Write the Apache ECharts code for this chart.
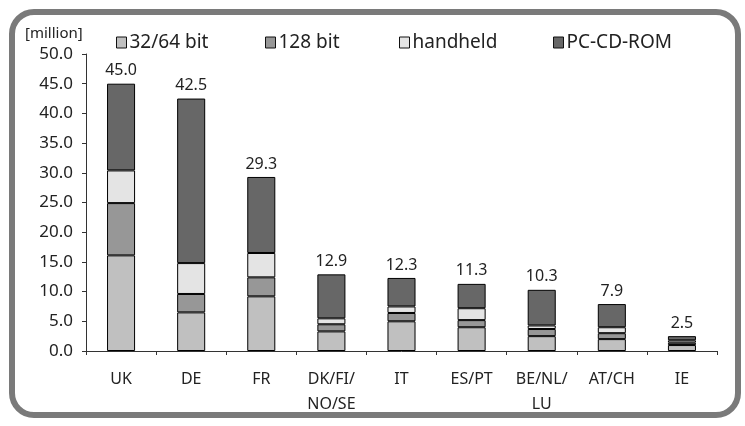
<!DOCTYPE html>
<html>
<head>
<meta charset="utf-8">
<script src="https://cdn.jsdelivr.net/npm/echarts@6/dist/echarts.min.js"></script>
<style>
  html, body { margin: 0; padding: 0; background: #fff; }
  #chart { width: 745px; height: 426px; }
</style>
</head>
<body>
<div id="chart"></div>
<script>
// Game software sales by market, stacked by platform [million units]
const categories = ['UK', 'DE', 'FR', 'DK/FI/\nNO/SE', 'IT', 'ES/PT', 'BE/NL/\nLU', 'AT/CH', 'IE'];
const bit3264  = [16.1, 6.5, 9.2, 3.3, 5.0, 4.0, 2.5, 2.0, 1.0];
const bit128   = [8.8, 3.1, 3.2, 1.2, 1.4, 1.2, 1.2, 1.0, 0.4];
const handheld = [5.5, 5.2, 4.1, 1.0, 1.1, 2.0, 0.6, 1.0, 0.4];
const pcCdRom  = [14.6, 27.7, 12.8, 7.4, 4.8, 4.1, 6.0, 3.9, 0.7];
const yTicks = { min: 0, max: 50, interval: 5 };

const seriesNames = ['32/64 bit', '128 bit', 'handheld', 'PC-CD-ROM'];
const seriesData = [bit3264, bit128, handheld, pcCdRom];
const seriesColors = ['#c0c0c0', '#979797', '#e4e4e4', '#676767'];

const FONT = '"Noto Sans", "Open Sans", sans-serif';
const TEXT = '#222';

const totals = categories.map((_, i) => seriesData.reduce((s, arr) => s + arr[i], 0));

const series = seriesData.map((data, k) => ({
  name: seriesNames[k],
  type: 'bar',
  stack: 'total',
  barWidth: '40%',
  data: data,
  itemStyle: { color: seriesColors[k], borderColor: '#000', borderWidth: 1 },
  emphasis: { disabled: true },
  label: k === seriesData.length - 1 ? {
    show: true,
    position: 'top',
    distance: 5,
    fontFamily: FONT,
    fontSize: 16,
    color: TEXT,
    formatter: p => totals[p.dataIndex].toFixed(1)
  } : { show: false }
}));

// one legend entry per platform, placed along the top row
const legendLeft = [116, 265, 399, 553];
const legends = seriesNames.map((name, k) => ({
  data: [name],
  left: legendLeft[k],
  top: 33,
  icon: 'rect',
  itemWidth: 10,
  itemHeight: 11,
  itemGap: 0,
  padding: 0,
  textStyle: { fontFamily: FONT, fontSize: 19, color: TEXT, padding: [0, 0, 0, -2] },
  itemStyle: { borderColor: '#111', borderWidth: 1 },
  selectedMode: false
}));

const chart = echarts.init(document.getElementById('chart'));
chart.setOption({
  animation: false,
  backgroundColor: '#fff',
  grid: { left: 86, right: 28, top: 54, bottom: 75, containLabel: false },
  legend: legends,
  graphic: [
    {
      type: 'rect',
      shape: { x: 12, y: 12, width: 726, height: 403, r: 22 },
      style: { fill: 'none', stroke: '#7a7a7a', lineWidth: 6 },
      silent: true
    },
    {
      type: 'text',
      left: 25,
      top: 26,
      style: { text: '[million]', fontFamily: FONT, fontSize: 15, fill: TEXT }
    }
  ],
  xAxis: {
    type: 'category',
    data: categories,
    axisLine: { lineStyle: { color: '#333', width: 1 } },
    axisTick: { show: true, length: 4, alignWithLabel: false, lineStyle: { color: '#333' } },
    axisLabel: {
      fontFamily: FONT, fontSize: 16, color: TEXT, margin: 16,
      lineHeight: 25, interval: 0
    },
    splitLine: { show: false }
  },
  yAxis: {
    type: 'value',
    min: yTicks.min,
    max: yTicks.max,
    interval: yTicks.interval,
    axisLine: { show: true, lineStyle: { color: '#333', width: 1 } },
    axisTick: { show: true, length: 4, lineStyle: { color: '#333' } },
    axisLabel: {
      fontFamily: FONT, fontSize: 17, color: TEXT, margin: 13,
      formatter: v => v.toFixed(1)
    },
    splitLine: { show: false }
  },
  series: series
});
</script>
</body>
</html>
